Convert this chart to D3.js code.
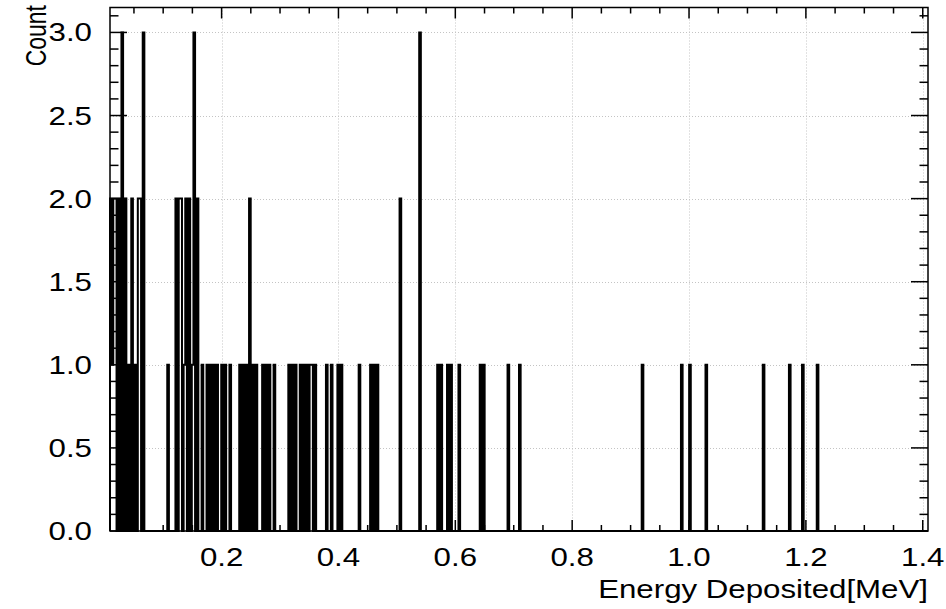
<!DOCTYPE html>
<html>
<head>
<meta charset="utf-8">
<script src="https://cdn.jsdelivr.net/npm/d3@7"></script>
<style>
  body { margin: 0; background: #fff; }
  text { font-family: "Liberation Sans", Arial, Helvetica, sans-serif; fill: #000; }
</style>
</head>
<body>
<script>
// Energy deposit histogram, ROOT look: outline-only steps, dotted grid, ticks inside the frame.

// filled bins (bin centre in MeV, entries)
energies = [0.0104, 0.0132, 0.0160, 0.0188, 0.0244, 0.0300, 0.0356, 0.0412, 0.0468, 0.0524,
	0.0580, 0.0608, 0.0664, 0.1084, 0.1224, 0.1280, 0.1308, 0.1364, 0.1392, 0.1448,
	0.1504, 0.1532, 0.1588, 0.1672, 0.1756, 0.1812, 0.1868, 0.1924, 0.2008, 0.2064,
	0.2148, 0.2316, 0.2372, 0.2428, 0.2484, 0.2540, 0.2596, 0.2708, 0.2764, 0.2820,
	0.2904, 0.3156, 0.3212, 0.3268, 0.3352, 0.3408, 0.3464, 0.3520, 0.3548, 0.3604,
	0.3800, 0.3884, 0.3996, 0.4052, 0.4360, 0.4556, 0.4612, 0.4668, 0.5060, 0.5396,
	0.5704, 0.5760, 0.5872, 0.5928, 0.6068, 0.6432, 0.6488, 0.6908, 0.7104, 0.9204,
	0.9876, 1.0016, 1.0296, 1.1276, 1.1724, 1.1948, 1.2200];
counts = [2, 1, 2, 2, 2, 3, 2, 1, 2, 1,
	2, 2, 3, 1, 2, 2, 2, 1, 2, 2,
	1, 3, 2, 1, 1, 1, 1, 1, 1, 1,
	1, 1, 1, 1, 2, 1, 1, 1, 1, 1,
	1, 1, 1, 1, 1, 1, 1, 1, 1, 1,
	1, 1, 1, 1, 1, 1, 1, 1, 2, 3,
	1, 1, 1, 1, 1, 1, 1, 1, 1, 1,
	1, 1, 1, 1, 1, 1, 1];

xTicks = [0.2, 0.4, 0.6, 0.8, 1.0, 1.2, 1.4];
yTicks = [0.0, 0.5, 1.0, 1.5, 2.0, 2.5, 3.0];
xTitle = 'Energy Deposited[MeV]';
yTitle = 'Count';

xmin = 0.009, nbins = 500, bw = 0.0028;
xmax = xmin + nbins*bw;
ymax = 3.15;

width = 946, height = 609;
fLeft = 110, fRight = 928, fTop = 7.5, fBottom = 531;
sx = 1.25;  // picture is stretched sideways

svg = d3.select('body').append('svg')
	.attr('width', width)
	.attr('height', height);

xScale = d3.scaleLinear().domain([xmin, xmax]).range([fLeft, fRight]);
yScale = d3.scaleLinear().domain([0, ymax]).range([fBottom, fTop]);

// fill the bins
bins = new Array(nbins).fill(0);
energies.forEach(function(e, i) {
	k = Math.floor((e - xmin)/bw);
	bins[k] += counts[i];
});

// grid
grid = svg.append('g')
	.attr('stroke', '#c4c4c4')
	.attr('stroke-width', 1)
	.attr('stroke-dasharray', '1,2');
grid.selectAll('line.gx')
	.data(xTicks)
	.enter().append('line')
	.attr('x1', d => Math.round(xScale(d)) + 0.5)
	.attr('x2', d => Math.round(xScale(d)) + 0.5)
	.attr('y1', fTop)
	.attr('y2', fBottom);
grid.selectAll('line.gy')
	.data(yTicks.slice(1))
	.enter().append('line')
	.attr('x1', fLeft)
	.attr('x2', fRight)
	.attr('y1', d => Math.round(yScale(d)) + 0.5)
	.attr('y2', d => Math.round(yScale(d)) + 0.5);

// histogram outline
pts = [[xmin, 0]];
bins.forEach(function(c, k) {
	pts.push([xmin + k*bw, c]);
	pts.push([xmin + (k+1)*bw, c]);
});
pts.push([xmax, 0]);
pts_to_path = d3.line()
	.x(d => xScale(d[0]))
	.y(d => yScale(d[1]));
svg.append('path')
	.attr('d', pts_to_path(pts))
	.attr('fill', 'none')
	.attr('stroke', 'black')
	.attr('stroke-width', 2);

// ticks inside the frame, on all four sides
xMinor = d3.range(1, 29).map(i => i*0.05).filter(v => Math.abs(v*5 - Math.round(v*5)) > 1e-6);
yMinor = d3.range(1, 32).map(i => i*0.1).filter(v => Math.abs(v*2 - Math.round(v*2)) > 1e-6);
ticks = svg.append('g')
	.attr('stroke', 'black')
	.attr('stroke-width', 1.5);
function xtick(vals, len) {
	vals.forEach(function(v) {
		x = xScale(v);
		ticks.append('line').attr('x1', x).attr('x2', x).attr('y1', fBottom).attr('y2', fBottom - len);
		ticks.append('line').attr('x1', x).attr('x2', x).attr('y1', fTop).attr('y2', fTop + len);
	});
}
function ytick(vals, len) {
	vals.forEach(function(v) {
		y = yScale(v);
		ticks.append('line').attr('x1', fLeft).attr('x2', fLeft + len).attr('y1', y).attr('y2', y);
		ticks.append('line').attr('x1', fRight).attr('x2', fRight - len).attr('y1', y).attr('y2', y);
	});
}
xtick(xTicks, 11);
xtick(xMinor, 6);
ytick(yTicks, 17);
ytick(yMinor, 8.5);

// frame
svg.append('rect')
	.attr('x', fLeft)
	.attr('y', fTop)
	.attr('width', fRight - fLeft)
	.attr('height', fBottom - fTop)
	.attr('fill', 'none')
	.attr('stroke', 'black')
	.attr('stroke-width', 1.5);

// labels
fs = 25;
svg.selectAll('text.ylab')
	.data(yTicks)
	.enter().append('text')
	.attr('transform', d => 'translate(92,' + (yScale(d) + 9) + ') scale(' + sx + ',1)')
	.attr('text-anchor', 'end')
	.attr('font-size', fs)
	.text(d => d3.format('.1f')(d));
svg.selectAll('text.xlab')
	.data(xTicks)
	.enter().append('text')
	.attr('transform', d => 'translate(' + xScale(d) + ',566) scale(' + sx + ',1)')
	.attr('text-anchor', 'middle')
	.attr('font-size', fs)
	.text(d => d3.format('.1f')(d));
svg.append('text')
	.attr('transform', 'translate(' + fRight + ',598) scale(' + sx + ',1)')
	.attr('text-anchor', 'end')
	.attr('font-size', fs)
	.text(xTitle);
svg.append('text')
	.attr('transform', 'translate(46,5) scale(' + sx + ',1) rotate(-90)')
	.attr('text-anchor', 'end')
	.attr('font-size', 23)
	.text(yTitle);
</script>
</body>
</html>
